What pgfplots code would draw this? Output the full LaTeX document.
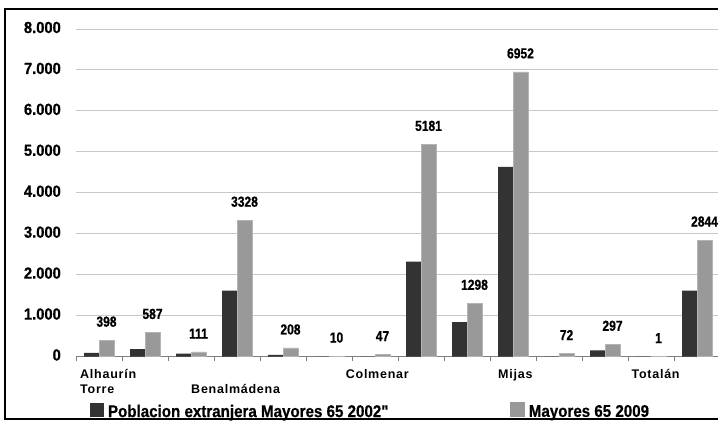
\documentclass[border=0pt]{standalone}
\usepackage{fontspec}
\setmainfont{Liberation Sans}
\newfontfamily\tickfont{Liberation Sans}[FakeStretch=0.92, FakeBold=0.8]
\newfontfamily\datafont{Liberation Sans}[FakeStretch=0.83, FakeBold=0.8]
\newfontfamily\legfont{Liberation Sans}[FakeStretch=0.89, FakeBold=0.6]
\newfontfamily\catfont{Liberation Sans}[LetterSpace=6]
\usepackage{pgfplots}
\pgfplotsset{compat=1.18}
\definecolor{darkbar}{HTML}{333333}
\definecolor{lightbar}{HTML}{999999}
\definecolor{lightedge}{HTML}{B4B4B4}
\definecolor{gridc}{HTML}{C8C8C8}
\definecolor{axisc}{HTML}{7F7F7F}
\newcommand{\catlab}{\catfont\bfseries\fontsize{12.5bp}{16bp}\selectfont}
\begin{document}
\begin{tikzpicture}[x=1bp,y=1bp]
\begin{axis}[
  at={(76bp,64.5bp)}, anchor=south west,
  scale only axis, width=642bp, height=327.5bp,
  xmin=-0.5, xmax=13.456, ymin=0, ymax=8000,
  ybar=0pt, bar width=15bp,
  separate axis lines,
  axis x line*=bottom, axis y line*=left,
  y axis line style={draw=none},
  x axis line style={draw=axisc, line width=1bp},
  xtick={-0.5,0.5,...,13.5}, xticklabels={},
  xtick align=outside, major tick length=4bp,
  xtick style={draw=axisc, line width=1bp},
  ytick={0,1000,...,8000}, ytick style={draw=none},
  ymajorgrids, grid style={draw=gridc, line width=1bp},
  /pgf/number format/1000 sep={.},
  /pgf/number format/assume math mode=true,
  yticklabel style={font=\tickfont\bfseries\fontsize{16bp}{16bp}\selectfont, inner sep=0pt, xshift=-15bp, yshift=1.5bp},
  clip=false,
  legend columns=2,
  legend style={at={(0.0218,-0.1896)}, anchor=south west, draw=none, fill=none,
    inner sep=0pt, outer sep=0pt, column sep=0pt, nodes={inner sep=0pt},
    font=\legfont\bfseries\fontsize{17bp}{17bp}\selectfont},
]
\addplot[fill=darkbar, draw=none,
  legend image code/.code={\fill[darkbar] (0bp,-5bp) rectangle (14bp,9bp);}]
  coordinates {(0,90) (1,180) (2,70) (3,1610) (4,40) (5,0) (6,0) (7,2320) (8,840) (9,4630) (10,0) (11,150) (12,0) (13,1610)};
\addlegendentry{\hspace*{4bp}\makebox[402bp][l]{Poblacion extranjera Mayores 65 2002"}}
\addplot[fill=lightbar, draw=lightedge, line width=0.8bp,
  legend image code/.code={\fill[lightbar] (0bp,-5bp) rectangle (14bp,9bp);},
  point meta=explicit symbolic,
  nodes near coords,
  every node near coord/.append style={font=\datafont\bfseries\fontsize{14.5bp}{14.5bp}\selectfont, inner sep=0pt, yshift=13bp, text=black}]
  coordinates {(0,398) [398] (1,587) [587] (2,111) [111] (3,3328) [3328] (4,208) [208] (5,10) [10] (6,47) [47] (7,5181) [5181] (8,1298) [1298] (9,6952) [6952] (10,72) [72] (11,297) [297] (12,1) [1] (13,2844) [2844]};
\addlegendentry{\hspace*{4bp}Mayores 65 2009}
\node[font=\catlab, anchor=base west, inner sep=0pt, yshift=-21.5bp] at (axis cs:-0.413,0) {Alhaurín};
\node[font=\catlab, anchor=base west, inner sep=0pt, yshift=-36.5bp] at (axis cs:-0.413,0) {Torre};
\node[font=\catlab, anchor=base, inner sep=0pt, yshift=-36.5bp] at (axis cs:2.97,0) {Benalmádena};
\node[font=\catlab, anchor=base, inner sep=0pt, yshift=-21.5bp] at (axis cs:6.05,0) {Colmenar};
\node[font=\catlab, anchor=base, inner sep=0pt, yshift=-21.5bp] at (axis cs:9.05,0) {Mijas};
\node[font=\catlab, anchor=base, inner sep=0pt, yshift=-21.5bp] at (axis cs:12.1,0) {Totalán};
\end{axis}
\draw[line width=1.5bp] (730bp,412bp) -- (5bp,412bp) -- (5bp,2bp) -- (730bp,2bp);
\pgfresetboundingbox
\useasboundingbox (0,0) rectangle (718bp,421bp);
\end{tikzpicture}
\end{document}
